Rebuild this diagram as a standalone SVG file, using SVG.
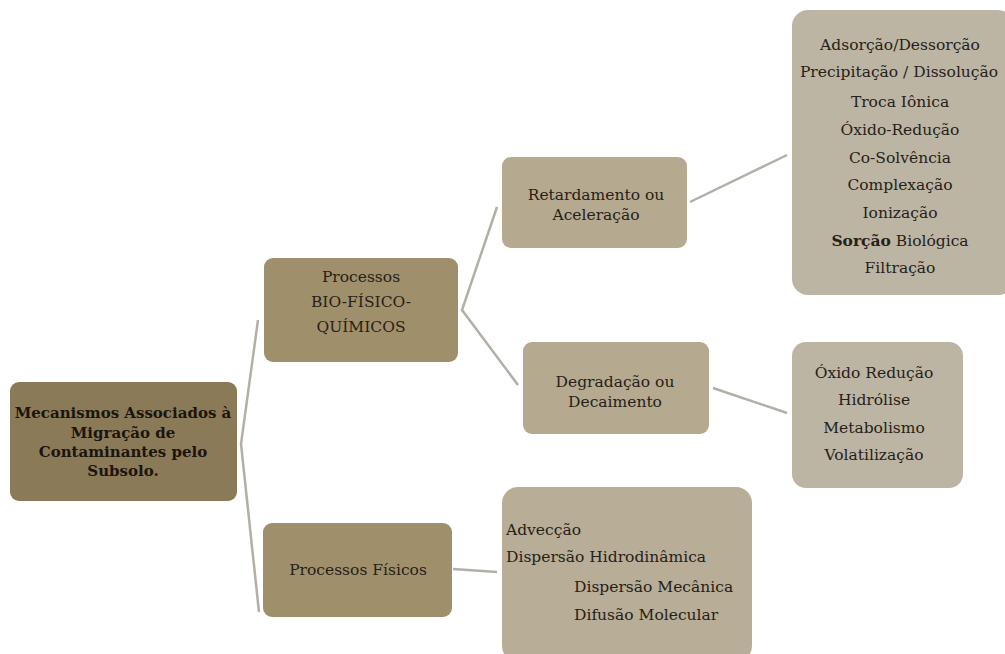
<svg xmlns="http://www.w3.org/2000/svg" width="1005" height="654" viewBox="0 0 1005 654">
<style>
text{font-family:"DejaVu Serif","Liberation Serif",serif;font-size:15.5px;fill:#262118;text-anchor:middle}
.b{font-weight:bold;font-size:15px;fill:#1a150d}
.l{text-anchor:start}
.c{fill:none;stroke:#b3afa7;stroke-width:2.5;stroke-linejoin:miter}
</style>
<rect width="1005" height="654" fill="#ffffff"/>
<g id="connectors">
<polyline class="c" points="258,320 241,444 259,612"/>
<polyline class="c" points="497,207 462,310 518,385"/>
<line class="c" x1="690" y1="202" x2="787" y2="155"/>
<line class="c" x1="713" y1="388" x2="787" y2="413"/>
<line class="c" x1="453" y1="569" x2="497" y2="572"/>
</g>
<g id="root">
<rect x="10" y="382" width="227" height="119" rx="9" fill="#8b7a58"/>
<text class="b" x="123" y="418">Mecanismos Associados à</text>
<text class="b" x="123" y="438">Migração de</text>
<text class="b" x="123" y="457">Contaminantes pelo</text>
<text class="b" x="123" y="476">Subsolo.</text>
</g>
<g id="bio">
<rect x="264" y="258" width="194" height="104" rx="9" fill="#a08f6b"/>
<text x="361" y="282">Processos</text>
<text x="361" y="307">BIO-FÍSICO-</text>
<text x="361" y="332">QUÍMICOS</text>
</g>
<g id="fisicos">
<rect x="263" y="523" width="189" height="94" rx="9" fill="#a08f6b"/>
<text x="358" y="575">Processos Físicos</text>
</g>
<g id="retardamento">
<rect x="502" y="157" width="185" height="91" rx="9" fill="#b5a98f"/>
<text x="596" y="200">Retardamento ou</text>
<text x="596" y="220">Aceleração</text>
</g>
<g id="degradacao">
<rect x="523" y="342" width="186" height="92" rx="9" fill="#b5a98f"/>
<text x="615" y="387">Degradação ou</text>
<text x="615" y="407">Decaimento</text>
</g>
<g id="retard-list">
<rect x="792" y="10" width="222" height="285" rx="16" fill="#bdb5a3"/>
<text x="900" y="50">Adsorção/Dessorção</text>
<text x="899" y="77">Precipitação / Dissolução</text>
<text x="900" y="107">Troca Iônica</text>
<text x="900" y="135">Óxido-Redução</text>
<text x="900" y="163">Co-Solvência</text>
<text x="900" y="190">Complexação</text>
<text x="900" y="218">Ionização</text>
<text x="900" y="246"><tspan font-weight="bold">Sorção</tspan> Biológica</text>
<text x="900" y="273">Filtração</text>
</g>
<g id="degrad-list">
<rect x="792" y="342" width="171" height="146" rx="14" fill="#bdb5a3"/>
<text x="874" y="378">Óxido Redução</text>
<text x="874" y="405">Hidrólise</text>
<text x="874" y="433">Metabolismo</text>
<text x="874" y="460">Volatilização</text>
</g>
<g id="fisicos-list">
<rect x="502" y="487" width="250" height="175" rx="16" fill="#b8ad96"/>
<text class="l" x="506" y="535">Advecção</text>
<text class="l" x="506" y="562">Dispersão Hidrodinâmica</text>
<text class="l" x="574" y="592">Dispersão Mecânica</text>
<text class="l" x="574" y="620">Difusão Molecular</text>
</g>
</svg>
